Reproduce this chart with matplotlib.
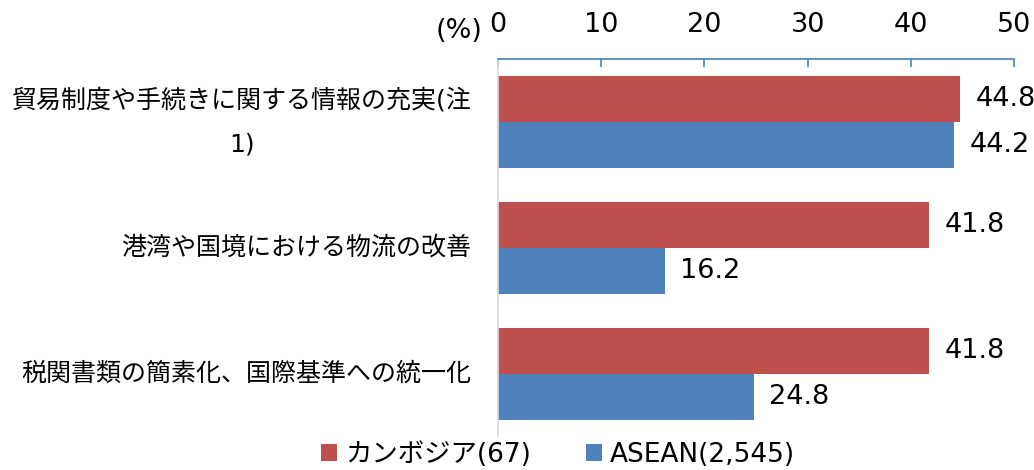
import numpy as np
import matplotlib
matplotlib.use("Agg")
from matplotlib import pyplot as plt

plt.rcParams['font.family'] = ['DejaVu Sans', 'Noto Sans CJK JP']

categories = ["貿易制度や手続きに関する情報の充実(注\n1)",
              "港湾や国境における物流の改善",
              "税関書類の簡素化、国際基準への統一化"]
cambodia = [44.8, 41.8, 41.8]
asean = [44.2, 16.2, 24.8]
series_names = ["カンボジア(67)", "ASEAN(2,545)"]
ticks = [0, 10, 20, 30, 40, 50]

red = "#C0504D"
blue = "#4F81BD"
axis_blue = "#4A7EBB"
fs_cat = 18
fs_num = 19.5

fig = plt.figure(figsize=(10.34, 4.70), dpi=100)
ax = fig.add_axes([0.4816, 0.0702, 0.4991, 0.8043])

y = np.arange(len(categories))
h = 0.365
b1 = ax.barh(y - h / 2, cambodia, height=h, color=red, label=series_names[0])
b2 = ax.barh(y + h / 2, asean, height=h, color=blue, label=series_names[1])

ax.bar_label(b1, labels=[f"{v:.1f}" for v in cambodia], padding=11, fontsize=fs_num)
ax.bar_label(b2, labels=[f"{v:.1f}" for v in asean], padding=11, fontsize=fs_num)

ax.set_xlim(0, 50)
ax.set_ylim(2.5, -0.5)
ax.set_xticks(ticks)
ax.xaxis.tick_top()
ax.tick_params(axis="x", direction="in", length=6, width=1.2, color=axis_blue,
               pad=15, labelsize=fs_num)
ax.set_yticks(y)
ax.set_yticklabels(categories)
ax.tick_params(axis="y", length=0, pad=19, labelsize=fs_cat)
for lbl in ax.get_yticklabels():
    lbl.set_multialignment("center")
    lbl.set_linespacing(2.05)
    lbl.set_verticalalignment("center")

for s in ["right", "bottom"]:
    ax.spines[s].set_visible(False)
ax.spines["top"].set_color(axis_blue)
ax.spines["top"].set_linewidth(1.2)
ax.spines["left"].set_color("#D9D9D9")
ax.spines["left"].set_linewidth(1.2)

fig.text(483 / 1034, 1 - 38 / 470, "(%)", ha="right", va="baseline", fontsize=fs_num)

fig.legend(handles=[b1, b2], loc="center", bbox_to_anchor=(558 / 1034, 1 - 455 / 470),
           ncol=2, frameon=False, fontsize=19, handlelength=0.6, handleheight=0.6,
           handletextpad=0.3, columnspacing=2.1, borderpad=0, borderaxespad=0)

fig.savefig("out.png", dpi=100)
